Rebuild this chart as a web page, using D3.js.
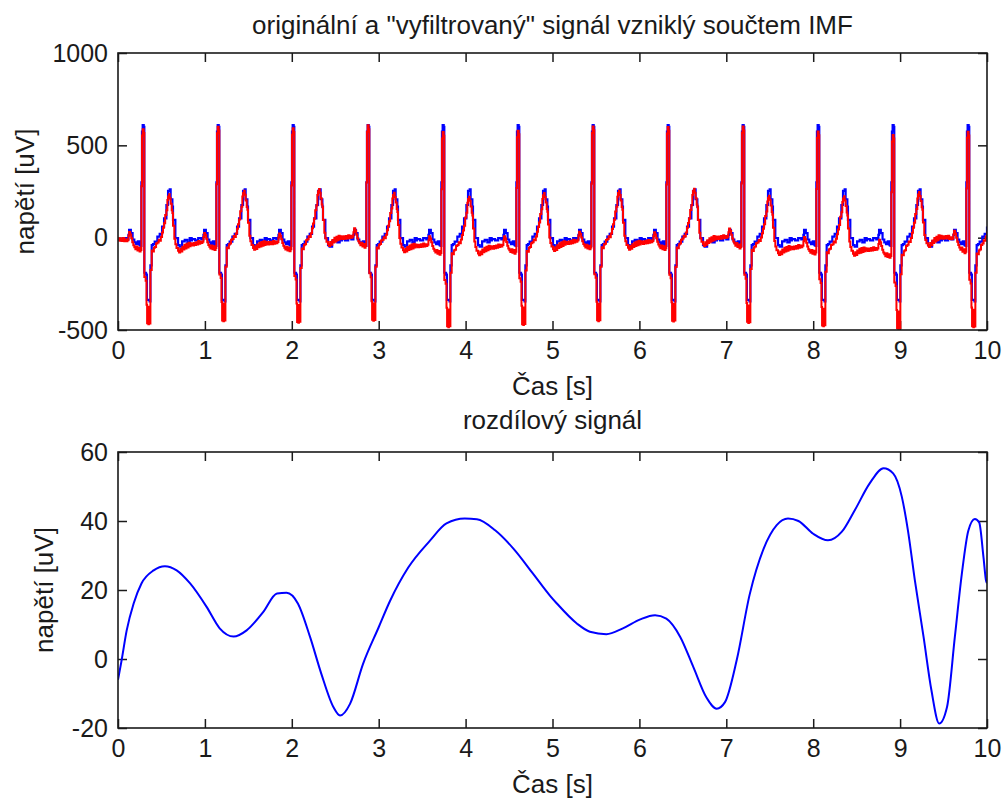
<!DOCTYPE html>
<html><head><meta charset="utf-8">
<script src="https://cdn.jsdelivr.net/npm/d3@7"></script>
<style>
body{margin:0;background:#fff}
text{font-family:"Liberation Sans",Arial,sans-serif;fill:#1a1a1a}
</style>
</head><body>
<svg id="c" width="1005" height="798"></svg>
<script>
// ---------- DATA ----------
// Titles / labels
const topTitle = 'originální a "vyfiltrovaný" signál vzniklý součtem IMF';
const bottomTitle = 'rozdílový signál';
const xLabel = 'Čas [s]';
const yLabel = 'napětí [uV]';

// Tick labels
const xTicks = [0,1,2,3,4,5,6,7,8,9,10];
const topYTicks = [-500,0,500,1000];
const bottomYTicks = [-20,0,20,40,60];

// R-peak times of the ECG beats [s]
const beatTimes = [0.288,1.151,2.014,2.877,3.740,4.603,5.466,6.329,7.192,8.055,8.918,9.781];

// One beat of the original signal (blue): time offset from R peak [s] and value [uV]
const origOffsets = [-0.300,-0.264,-0.228,-0.192,-0.168,-0.160,-0.140,-0.120,-0.100,-0.080,-0.060,-0.040,-0.028,-0.019,-0.012,-0.004,0.008,0.015,0.035,0.045,0.075,0.085,0.100,0.115,0.134,0.165,0.192,0.219,0.242,0.269,0.288,0.307,0.318,0.338,0.345,0.372,0.403,0.422,0.450,0.480,0.510,0.537,0.560];
const origShape   = [-8,-15,-2,-10,15,42,25,-10,-25,-35,-20,-40,-45,300,575,610,600,-190,-200,-337,-345,-150,-40,-35,-21,6,20,60,105,177,253,262,208,168,96,-3,-40,-49,-20,-12,-25,-3,-15];

// One beat of the "filtered" signal (red), before the slow difference is removed
const filtOffsets = [-0.300,-0.288,-0.276,-0.264,-0.252,-0.240,-0.228,-0.216,-0.204,-0.192,-0.180,-0.168,-0.160,-0.148,-0.136,-0.124,-0.112,-0.100,-0.088,-0.076,-0.064,-0.052,-0.040,-0.028,-0.019,-0.012,-0.004,0.008,0.015,0.030,0.040,0.047,0.054,0.061,0.068,0.075,0.085,0.100,0.112,0.125,0.134,0.150,0.165,0.180,0.192,0.205,0.219,0.230,0.242,0.255,0.269,0.280,0.288,0.300,0.307,0.318,0.330,0.338,0.345,0.360,0.372,0.385,0.403,0.415,0.428,0.440,0.452,0.464,0.476,0.488,0.500,0.512,0.524,0.536,0.548,0.560];
const filtShape   = [-10,-22,-8,-20,-5,-18,0,-15,-3,-12,-5,20,42,30,10,-10,-25,-35,-45,-30,-50,-35,-55,-45,300,575,610,590,-190,-210,-340,-440,-360,-445,-350,-440,-150,-45,-50,-30,-25,-5,0,15,10,30,55,80,105,150,175,230,250,262,240,210,175,160,90,20,-10,-30,-45,-55,-35,-50,-25,-40,-15,-35,-10,-30,-5,-25,-8,-20];

// Difference signal (bottom plot): time [s] and value [uV]
const diffT = [0,0.04,0.10,0.18,0.27,0.41,0.54,0.675,0.83,1.02,1.17,1.33,1.48,1.67,1.83,1.94,2.07,2.21,2.34,2.48,2.555,2.67,2.82,3.0,3.13,3.34,3.59,3.78,3.99,4.13,4.34,4.55,4.78,4.97,5.05,5.28,5.43,5.62,5.81,6.01,6.18,6.31,6.47,6.62,6.77,6.89,6.985,7.12,7.27,7.43,7.58,7.71,7.83,8.00,8.17,8.33,8.48,8.65,8.81,8.92,9.02,9.09,9.17,9.27,9.36,9.45,9.54,9.63,9.71,9.785,9.86,9.91,9.96,9.99,10.0];
const diffV = [-6,-0.6,8.3,16.1,21.9,25.7,26.9,25.7,21.9,15.1,8.9,6.5,8.3,13.6,19.0,19.2,16.1,6.4,-4.3,-14.0,-16.4,-13.0,-1.4,9.2,16.8,26.5,34.3,39.3,40.7,40.5,37.3,32.0,24.6,18.4,16.1,10.3,7.9,7.2,8.9,11.5,12.7,11.7,6.4,-2.3,-11.1,-14.4,-12.5,-0.3,18.8,32.0,38.8,40.7,40.0,36.3,34.4,36.9,43.2,50.9,55.3,53.8,47.0,37.3,22.8,6.4,-9.0,-18.7,-13.9,6.4,24.6,37.2,40.6,39.6,29.4,22.6,22.0];

// ---------- DRAWING ----------
const svg = d3.select("#c");
const L = 118, R = 987;
const topBox = {t:53, b:330};
const botBox = {t:452, b:728};
const tickFont = 25, labelFont = 26;

const x = d3.scaleLinear().domain([0,10]).range([L,R]);
const yTop = d3.scaleLinear().domain([-500,1000]).range([topBox.b, topBox.t]);
const yBot = d3.scaleLinear().domain([-20,60]).range([botBox.b, botBox.t]);
const diffAt = d3.scaleLinear().domain(diffT).range(diffV);

function buildSeries(offs, vals, shift){
  const pts = [];
  beatTimes.forEach(bt=>{
    offs.forEach((o,i)=>{
      const t = bt + o;
      if (t >= 0 && t <= 10) pts.push([t, vals[i] - shift(t)]);
    });
  });
  return pts;
}
const origData = buildSeries(origOffsets, origShape, ()=>0);
const filtData = buildSeries(filtOffsets, filtShape, diffAt);

const fmt = d => String(d);
function drawAxes(box, y, yTicks){
  const g = svg.append("g");
  const bx = d3.axisBottom(x).tickValues(xTicks).tickFormat(fmt).tickSizeInner(-9).tickSizeOuter(0).tickPadding(11);
  g.append("g").attr("transform",`translate(0,${box.b})`).call(bx);
  const tx = d3.axisTop(x).tickValues(xTicks).tickFormat("").tickSizeInner(-9).tickSizeOuter(0);
  g.append("g").attr("transform",`translate(0,${box.t})`).call(tx);
  const ly = d3.axisLeft(y).tickValues(yTicks).tickFormat(fmt).tickSizeInner(-9).tickSizeOuter(0).tickPadding(10);
  g.append("g").attr("transform",`translate(${L},0)`).call(ly);
  const ry = d3.axisRight(y).tickValues(yTicks).tickFormat("").tickSizeInner(-9).tickSizeOuter(0);
  g.append("g").attr("transform",`translate(${R},0)`).call(ry);
  g.selectAll(".domain").remove();
  g.selectAll(".tick line").attr("stroke","#1a1a1a").attr("stroke-width",1.5);
  g.selectAll(".tick text").style("font-size",tickFont+"px").attr("fill","#1a1a1a").style("font-family",'"Liberation Sans",Arial,sans-serif');
  return g;
}
function drawBox(box){
  svg.append("rect").attr("x",L).attr("y",box.t).attr("width",R-L).attr("height",box.b-box.t)
    .attr("fill","none").attr("stroke","#1a1a1a").attr("stroke-width",1.6);
}

// clip paths
svg.append("clipPath").attr("id","clipTop").append("rect").attr("x",L).attr("y",topBox.t).attr("width",R-L).attr("height",topBox.b-topBox.t);
svg.append("clipPath").attr("id","clipBot").append("rect").attr("x",L).attr("y",botBox.t-2).attr("width",R-L).attr("height",botBox.b-botBox.t+4);

// top plot
drawAxes(topBox, yTop, topYTicks);
const lineTop = d3.line().x(d=>x(d[0])).y(d=>yTop(d[1])).curve(d3.curveStepAfter);
svg.append("path").datum(origData).attr("d",lineTop).attr("fill","none").attr("stroke","#0000ff").attr("stroke-width",2.2).attr("clip-path","url(#clipTop)");
svg.append("path").datum(filtData).attr("d",lineTop).attr("fill","none").attr("stroke","#ff0000").attr("stroke-width",2).attr("clip-path","url(#clipTop)");
drawBox(topBox);

// bottom plot
drawAxes(botBox, yBot, bottomYTicks);
const lineBot = d3.line().x(d=>x(d[0])).y(d=>yBot(d[1])).curve(d3.curveMonotoneX);
svg.append("path").datum(diffT.map((t,i)=>[t,diffV[i]])).attr("d",lineBot).attr("fill","none").attr("stroke","#0000ff").attr("stroke-width",2).attr("clip-path","url(#clipBot)");
drawBox(botBox);

// texts
const cx = (L+R)/2;
svg.append("text").attr("x",cx).attr("y",34).attr("text-anchor","middle").style("font-size",labelFont+"px").text(topTitle);
svg.append("text").attr("x",cx).attr("y",395).attr("text-anchor","middle").style("font-size",labelFont+"px").text(xLabel);
svg.append("text").attr("x",cx).attr("y",429).attr("text-anchor","middle").style("font-size",labelFont+"px").text(bottomTitle);
svg.append("text").attr("x",cx).attr("y",793).attr("text-anchor","middle").style("font-size",labelFont+"px").text(xLabel);
svg.append("text").attr("transform",`translate(34,${(topBox.t+topBox.b)/2}) rotate(-90)`).attr("text-anchor","middle").style("font-size",labelFont+"px").text(yLabel);
svg.append("text").attr("transform",`translate(53,${(botBox.t+botBox.b)/2}) rotate(-90)`).attr("text-anchor","middle").style("font-size",labelFont+"px").text(yLabel);
</script>
</body></html>
